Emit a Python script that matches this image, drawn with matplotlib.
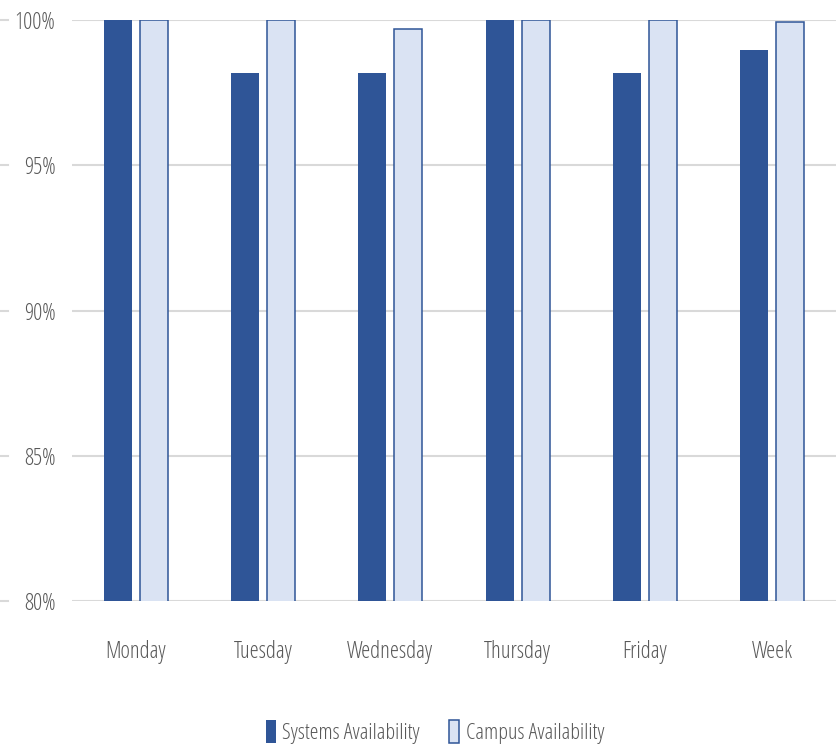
import matplotlib.pyplot as plt
import matplotlib.transforms as mtransforms
import numpy as np

days = ['Monday', 'Tuesday', 'Wednesday', 'Thursday', 'Friday', 'Week']
systems = [100.0, 98.18, 98.18, 100.0, 98.18, 98.97]
campus = [100.0, 100.0, 99.69, 100.0, 100.0, 99.93]
yticks = [80, 85, 90, 95, 100]

plt.rcParams['font.family'] = ['Open Sans', 'DejaVu Sans']
plt.rcParams['font.stretch'] = 'condensed'

dark = '#2F5597'
light = '#DAE3F3'
grey = '#595959'

fig = plt.figure(figsize=(8.36, 7.51), dpi=100)
ax = fig.add_axes([72 / 836, 1 - 601 / 751, 764 / 836, 581 / 751])

x = np.arange(len(days))
w = 0.22
ax.bar(x - 0.141, systems, w, color=dark, label='Systems Availability', zorder=3)
ax.bar(x + 0.141, campus, w, color=light, edgecolor=dark, linewidth=1.1,
       label='Campus Availability', zorder=3)

ax.set_xlim(-0.5, len(days) - 0.5)
ax.set_ylim(80, 100)
ax.set_yticks(yticks)
ax.set_yticklabels([f'{t}%' for t in yticks])
ax.set_xticks(x)
ax.set_xticklabels(days)
ax.grid(axis='y', color='#D9D9D9', linewidth=1.5, zorder=0)
for s in ax.spines.values():
    s.set_visible(False)
ax.tick_params(length=0, labelsize=16.5, colors=grey)
ax.tick_params(axis='x', pad=28)
ax.tick_params(axis='y', pad=12)

# short gridline stubs at the far left edge
trans = mtransforms.blended_transform_factory(fig.transFigure, ax.transData)
for t in yticks:
    ax.plot([0, 8 / 836], [t, t], color='#D9D9D9', linewidth=1.5,
            transform=trans, clip_on=False)

ax.legend(loc='center', bbox_to_anchor=(435 / 836, 1 - 732 / 751),
          bbox_transform=fig.transFigure, ncol=2, frameon=False,
          fontsize=16, labelcolor=grey, handlelength=0.45, handleheight=1.2,
          handletextpad=0.3, columnspacing=1.3)

plt.savefig('out.png', dpi=100)
